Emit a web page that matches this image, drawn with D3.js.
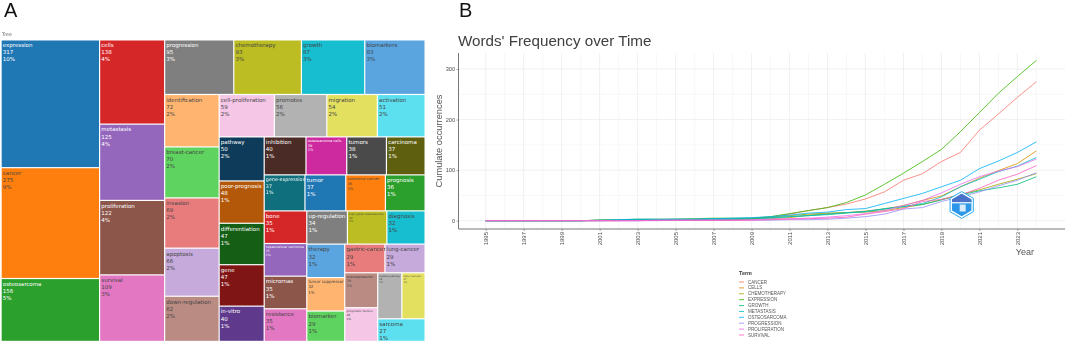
<!DOCTYPE html>
<html><head><meta charset="utf-8">
<script src="https://cdn.jsdelivr.net/npm/d3@7"></script>
<style>html,body{margin:0;padding:0;background:#fff}svg{display:block;filter:blur(0.3px)}</style>
</head><body><svg id="c" width="1065" height="343"></svg>
<script>
// ---------- Panel A data ----------
const terms = ["expression","cancer","osteosarcoma","cells","metastasis","proliferation","survival","progression","chemotherapy","growth","biomarkers","identification","breast-cancer","invasion","apoptosis","down-regulation","cell-proliferation","promotes","migration","activation","pathway","poor-prognosis","differentiation","gene","in-vitro","inhibition","osteosarcoma cells","tumors","carcinoma","gene-expression","tumor","colorectal-cancer","prognosis","bone","hepatocellular carcinoma","micrornas","resistance","up-regulation","high-grade osteosarcoma","diagnosis","therapy","tumor suppressor","biomarker","gastric-cancer","lung-cancer","overexpression","prognostic factors","signaling pathway","tumor necrosis","sarcoma"];
const counts = [317,275,156,138,125,122,109,95,93,87,83,72,70,69,66,62,59,56,54,51,50,48,47,47,40,40,39,38,37,37,37,36,36,35,35,35,35,34,33,32,32,32,29,29,29,29,28,28,27,27];
const shares = ["10%","9%","5%","4%","4%","4%","3%","3%","3%","3%","3%","2%","2%","2%","2%","2%","2%","2%","2%","2%","2%","1%","1%","1%","1%","1%","1%","1%","1%","1%","1%","1%","1%","1%","1%","1%","1%","1%","1%","1%","1%","1%","1%","1%","1%","1%","1%","1%","1%","1%"];
// how the cells nest, by term index: [ "h"|"v", children ] (h = side by side, v = stacked)
const nesting = ["h",[
  ["v",[0,1,2]],
  ["v",[3,4,5,6]],
  ["v",[
    ["h",[7,8,9,10]],
    ["h",[
      ["v",[11,12,13,14,15]],
      ["v",[
        ["h",[16,17,18,19]],
        ["h",[
          ["v",[20,21,22,23,24]],
          ["v",[
            ["h",[25,26,27,28]],
            ["h",[29,30,31,32]],
            ["h",[
              ["v",[33,34,35,36]],
              ["v",[
                ["h",[37,38,39]],
                ["h",[
                  ["v",[40,41,42]],
                  ["v",[
                    ["h",[43,44]],
                    ["h",[
                      ["v",[45,46]],
                      ["v",[
                        ["h",[47,48]],
                        49
                      ]]
                    ]]
                  ]]
                ]]
              ]]
            ]]
          ]]
        ]]
      ]]
    ]]
  ]]
]];
const treePalette = ["#1f77b4","#ff7f0e","#2ca02c","#d62728","#9467bd","#8c564b","#e377c2","#7f7f7f","#bcbd22","#17becf","#5aa5e0","#ffb570","#5fd35f","#e87c7c","#c5aadb","#ba8b82","#f5c6e6","#b2b2b2","#e3e060","#5cdfee","#0f3b5a","#b25808","#155e15","#7f1515","#5f3a8c","#4a2b25","#cc2a9e","#4a4a4a","#5f5f10","#0f6f7c"];
const darkText = new Set([1,6,8,9,10,11,12,13,14,15,16,17,18,19,31,36,38,39,40,41,42,43,44,45,46,47,48,49]);
const smallCells = {26:3.5,31:3.7,34:3.0,38:2.7,41:4.0,45:3.5,46:2.9,47:2.3,48:2.3,29:4.8};

// ---------- Panel B data ----------
const years = d3.range(1995,2025);
const legendTerms = ["CANCER","CELLS","CHEMOTHERAPY","EXPRESSION","GROWTH","METASTASIS","OSTEOSARCOMA","PROGRESSION","PROLIFERATION","SURVIVAL"];
const cancerSeries      = [0,0,0,0,0,0,0,0,1,1,1,1,1,2,4,7,13,20,26,33,43,57,80,93,117,135,179,211,244,275];
const cellsSeries       = [0,0,0,0,0,0,1,1,1,1,1,1,2,2,3,4,6,11,14,16,19,23,30,40,49,67,84,99,113,138];
const chemoSeries       = [0,0,0,0,0,0,1,1,1,2,2,2,3,3,4,7,10,13,15,16,17,20,26,32,42,52,61,72,82,93];
const expressionSeries  = [0,0,0,0,0,0,1,2,3,3,3,4,5,5,5,8,14,20,26,36,51,72,94,117,141,176,214,252,285,317];
const growthSeries      = [0,0,0,0,0,0,1,1,2,2,3,3,4,4,5,6,8,10,12,15,18,24,28,32,41,51,59,65,72,87];
const metastasisSeries  = [0,0,0,0,0,0,0,1,1,1,2,2,2,3,3,5,8,10,13,16,18,23,28,34,47,67,82,97,108,125];
const osteosarcomaSeries= [0,0,0,0,0,0,1,2,3,3,3,3,4,5,6,8,11,15,17,22,24,34,44,54,67,80,103,118,135,156];
const progressionSeries = [0,0,0,0,0,0,0,0,0,1,1,1,1,1,1,1,2,2,3,5,8,13,23,26,38,47,57,69,80,95];
const proliferationSeries=[0,0,0,0,0,0,0,0,0,0,1,1,1,1,2,3,4,5,7,10,14,20,30,40,55,72,87,98,107,122];
const survivalSeries    = [0,0,0,0,0,0,0,0,0,1,1,1,1,1,1,2,3,4,5,7,13,18,24,38,42,51,64,80,92,109];
const allSeries = [cancerSeries,cellsSeries,chemoSeries,expressionSeries,growthSeries,metastasisSeries,osteosarcomaSeries,progressionSeries,proliferationSeries,survivalSeries];
const lineColors = ["#F8766D","#D89000","#A3A500","#39B600","#00BF7D","#00BFC4","#00B0F6","#9590FF","#E76BF3","#FF62BC"];
const yTicks = [0,100,200,300];
const yMinor = [50,150,250];

const svg = d3.select("#c");
const sans = "'Liberation Sans',Arial,sans-serif";
const verd = "'DejaVu Sans',Verdana,sans-serif";

// panel letters
svg.append("text").attr("x",4).attr("y",17).attr("font-family",sans).attr("font-size",20).attr("fill","#111").text("A");
svg.append("text").attr("x",459).attr("y",17).attr("font-family",sans).attr("font-size",20).attr("fill","#111").text("B");
svg.append("text").attr("x",2).attr("y",36).attr("font-family",verd).attr("font-size",4.8).attr("fill","#666").text("Tree");

// ---------- Treemap ----------
function toNode(n){ return typeof n==="number" ? {i:n,value:counts[n]} : {dir:n[0],children:n[1].map(toNode)}; }
const treeRoot = d3.hierarchy(toNode(nesting)).sum(d=>d.value||0);
d3.treemap()
  .size([424,301.5])
  .paddingInner(0)
  .round(false)
  .tile((node,x0,y0,x1,y1)=> (node.data.dir==="h"?d3.treemapDice:d3.treemapSlice)(node,x0,y0,x1,y1))(treeRoot);
const gT = svg.append("g").attr("transform","translate(1.1,39.9)");
const cell = gT.selectAll("g").data(treeRoot.leaves()).join("g").attr("transform",d=>`translate(${d.x0+0.6},${d.y0+0.6})`);
cell.append("rect")
  .attr("width",d=>Math.max(0,d.x1-d.x0-1.2)).attr("height",d=>Math.max(0,d.y1-d.y0-1.2))
  .attr("fill",d=>treePalette[d.data.i%treePalette.length]);
cell.each(function(d){
  const i=d.data.i, fs=smallCells[i]||5.5, g=d3.select(this);
  const col=darkText.has(i)?"#444":"#fff";
  const lines=[terms[i],String(counts[i]),shares[i]];
  const lh=fs*1.29;
  const t=g.append("text").attr("font-family",verd).attr("font-size",fs).attr("fill",col);
  lines.forEach((s,k)=>t.append("tspan").attr("x",1.1).attr("y",fs*1.1+k*lh+0.7).text(s));
});

// ---------- Line chart ----------
const x = d3.scaleLinear().domain([1995,2024]).range([485.7,1036.4]);
const y = d3.scaleLinear().domain([0,300]).range([220.7,69]);
const pLeft=458.5,pRight=1065,pTop=53,pBottom=229;
const gL = svg.append("g");
gL.append("text").attr("x",458).attr("y",46).attr("font-family",sans).attr("font-size",15.2).attr("fill","#404040").text("Words' Frequency over Time");
const minorX=years.filter(v=>v%2===0), majorX=years.filter(v=>v%2===1);
gL.selectAll(".mnx").data(minorX).join("line").attr("class","mnx").attr("x1",d=>x(d)).attr("x2",d=>x(d)).attr("y1",pTop).attr("y2",pBottom).attr("stroke","#f4f4f4").attr("stroke-width",.6);
gL.selectAll(".mny").data(yMinor).join("line").attr("class","mny").attr("x1",pLeft).attr("x2",pRight).attr("y1",d=>y(d)).attr("y2",d=>y(d)).attr("stroke","#f4f4f4").attr("stroke-width",.6);
gL.selectAll(".mjx").data(majorX).join("line").attr("class","mjx").attr("x1",d=>x(d)).attr("x2",d=>x(d)).attr("y1",pTop).attr("y2",pBottom).attr("stroke","#ececec").attr("stroke-width",.8);
gL.selectAll(".mjy").data(yTicks).join("line").attr("class","mjy").attr("x1",pLeft).attr("x2",pRight).attr("y1",d=>y(d)).attr("y2",d=>y(d)).attr("stroke","#ececec").attr("stroke-width",.8);

const line=d3.line().x((d,i)=>x(years[i])).y(d=>y(d));
gL.selectAll(".ser").data(allSeries).join("path").attr("class","ser").attr("d",line).attr("fill","none")
  .attr("stroke",(d,i)=>lineColors[i]).attr("stroke-width",1).attr("stroke-opacity",.8);

const ax=gL.append("g").attr("transform",`translate(0,${pBottom})`).call(d3.axisBottom(x).tickValues(majorX).tickFormat(d3.format("d")).tickSize(2).tickPadding(2));
ax.select(".domain").remove();
ax.selectAll("line").attr("stroke","#666").attr("stroke-width",.6);
ax.selectAll("text").attr("font-family",sans).attr("font-size",6).attr("fill","#4d4d4d")
  .attr("transform","rotate(-90)").attr("text-anchor","end").attr("x",-3).attr("y",0).attr("dy","0.35em");
const ay=gL.append("g").attr("transform",`translate(${pLeft},0)`).call(d3.axisLeft(y).tickValues(yTicks).tickSize(2).tickPadding(1.5));
ay.select(".domain").remove();
ay.selectAll("line").attr("stroke","#666").attr("stroke-width",.6);
ay.selectAll("text").attr("font-family",sans).attr("font-size",5.6).attr("fill","#4d4d4d");
gL.append("line").attr("x1",pLeft).attr("x2",pLeft).attr("y1",pTop).attr("y2",pBottom).attr("stroke","#777").attr("stroke-width",1);
gL.append("line").attr("x1",pLeft).attr("x2",pRight).attr("y1",pBottom).attr("y2",pBottom).attr("stroke","#777").attr("stroke-width",1);
gL.append("text").attr("transform","translate(442,141) rotate(-90)").attr("text-anchor","middle").attr("font-family",sans).attr("font-size",9.3).attr("fill","#555").text("Cumulate occurrences");
gL.append("text").attr("x",1034).attr("y",255).attr("text-anchor","end").attr("font-family",sans).attr("font-size",9).attr("fill","#555").text("Year");

// watermark
const wm=svg.append("g").attr("transform","translate(961.7,205)");
const hex=r=>d3.range(6).map(k=>{const a=Math.PI/3*k+Math.PI/6;return [r*Math.cos(a),r*Math.sin(a)];});
wm.append("polygon").attr("points",hex(13.4).join(" ")).attr("fill","#fff").attr("stroke","#2aa8f0").attr("stroke-width",1);
wm.append("polygon").attr("points",hex(11.2).join(" ")).attr("fill","#2c97e8");
wm.append("polygon").attr("points","-9.7,-5.6 0,-11.2 9.7,-5.6 9.7,-3 -9.7,-3").attr("fill","#4a72c8");
wm.append("rect").attr("x",-9.7).attr("y",-3).attr("width",19.4).attr("height",1.4).attr("fill","#d8ecfb");
wm.append("rect").attr("x",-2).attr("y",-0.5).attr("width",6).attr("height",7).attr("fill","#d8ecfb");

// legend
const gLg=svg.append("g");
gLg.append("text").attr("x",739).attr("y",275).attr("font-family",sans).attr("font-size",5.4).attr("font-weight","bold").attr("fill","#333").text("Term");
const ly=d3.scalePoint().domain(legendTerms).range([282,335]);
const it=gLg.selectAll(".it").data(legendTerms).join("g").attr("class","it").attr("transform",d=>`translate(0,${ly(d)})`);
it.append("line").attr("x1",739).attr("x2",744).attr("stroke",(d,i)=>lineColors[i]).attr("stroke-width",1.1).attr("stroke-opacity",.75);
it.append("text").attr("x",748).attr("y",1.5).attr("font-family",sans).attr("font-size",4.5).attr("fill","#555").text(d=>d);
</script></body></html>
